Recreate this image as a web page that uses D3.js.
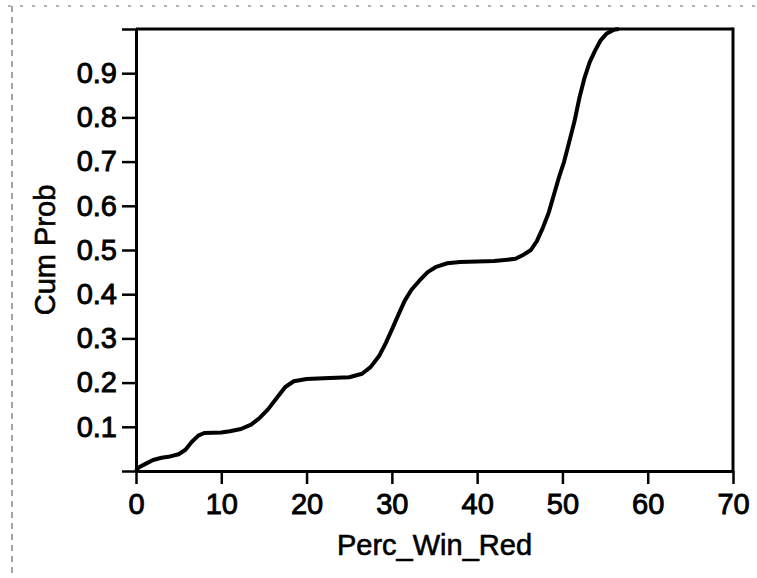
<!DOCTYPE html>
<html>
<head>
<meta charset="utf-8">
<script src="https://cdn.jsdelivr.net/npm/d3@7"></script>
<style>
  body { margin: 0; background: #fff; }
  svg { display: block; }
  .axis text { font-family: "Liberation Sans", Arial, sans-serif; font-size: 29px; fill: #000; stroke: #000; stroke-width: 0.9px; }
  .axis path, .axis line { stroke: #000; }
  .ttl { font-family: "Liberation Sans", Arial, sans-serif; font-size: 29px; fill: #000; stroke: #000; stroke-width: 0.6px; }
</style>
</head>
<body>
<div class="svgtarget"></div>
<script>
// chart data
var xTicks = [0, 10, 20, 30, 40, 50, 60, 70];
var yTicks = [0, 0.1, 0.2, 0.3, 0.4, 0.5, 0.6, 0.7, 0.8, 0.9, 1.0];
var yTickLabels = ["", "0.1", "0.2", "0.3", "0.4", "0.5", "0.6", "0.7", "0.8", "0.9", ""];
var xTitle = "Perc_Win_Red";
var yTitle = "Cum Prob";

var percWinRed = [0, 0.3, 1, 2, 3, 4, 5, 5.8, 6.5, 7.3, 8, 10, 11, 12.3, 13.5, 14.5, 15.5, 16.5, 17.5, 18.5,
                  20, 22, 25, 26.5, 27.5, 28.5, 29.3, 30, 30.8, 31.5, 32.3, 33.2, 34.2, 35.2, 36.5, 38,
                  42, 44.5, 45.5, 46.3, 47, 47.7, 48.4, 49, 49.6, 50.2, 50.8, 51.4, 52, 52.6, 53.2, 53.8,
                  54.5, 55.2, 56, 56.6];
var cumProb = [0, 0.008, 0.015, 0.025, 0.03, 0.033, 0.038, 0.048, 0.065, 0.08, 0.086, 0.087, 0.09, 0.095, 0.105, 0.12, 0.14, 0.165, 0.19, 0.203,
               0.208, 0.21, 0.212, 0.22, 0.235, 0.26, 0.29, 0.32, 0.355, 0.385, 0.41, 0.43, 0.45, 0.462, 0.47, 0.473,
               0.475, 0.48, 0.49, 0.5, 0.52, 0.55, 0.585, 0.625, 0.665, 0.70, 0.745, 0.79, 0.845, 0.89, 0.925, 0.95,
               0.975, 0.99, 0.998, 1.0];

var W = 757, H = 578;
var margin = {top: 29, right: 24, bottom: 107, left: 136};

var svg = d3.select(".svgtarget").append("svg")
    .attr("width", W)
    .attr("height", H);

// faint scan border
svg.append("line").attr("x1", 8).attr("y1", 6).attr("x2", W).attr("y2", 6)
    .attr("stroke", "#666").attr("stroke-width", 1.2).attr("stroke-dasharray", "3,9");
svg.append("line").attr("x1", 12).attr("y1", 6).attr("x2", 12).attr("y2", H)
    .attr("stroke", "#666").attr("stroke-width", 1.2).attr("stroke-dasharray", "6,5");

var x = d3.scaleLinear().domain([0, 70]).range([margin.left, W - margin.right]);
var y = d3.scaleLinear().domain([0, 1]).range([H - margin.bottom, margin.top]);

// frame top and right
svg.append("line").attr("x1", x(0)).attr("x2", x(70)).attr("y1", y(1)).attr("y2", y(1))
    .attr("stroke", "#000").attr("stroke-width", 3);
svg.append("line").attr("x1", x(70)).attr("x2", x(70)).attr("y1", y(1) - 1.5).attr("y2", y(0))
    .attr("stroke", "#000").attr("stroke-width", 3);

var xAxis = svg.append("g").attr("class", "axis")
    .attr("transform", "translate(0," + y(0) + ")")
    .call(d3.axisBottom(x).tickValues(xTicks).tickSize(13).tickPadding(9).tickSizeOuter(0));

var yAxis = svg.append("g").attr("class", "axis")
    .attr("transform", "translate(" + x(0) + ",0)")
    .call(d3.axisLeft(y).tickValues(yTicks).tickSize(14).tickPadding(5).tickSizeOuter(0)
        .tickFormat(function(d, i) { return yTickLabels[i]; }));

svg.selectAll(".axis path").attr("stroke-width", 3);
svg.selectAll(".axis line").attr("stroke-width", 2.5);

var line = d3.line()
    .x(function(d, i) { return x(percWinRed[i]); })
    .y(function(d) { return y(d); });

svg.append("path")
    .datum(cumProb)
    .attr("fill", "none")
    .attr("stroke", "#000")
    .attr("stroke-width", 4)
    .attr("stroke-linejoin", "round")
    .attr("d", line);

svg.append("text").attr("class", "ttl")
    .attr("x", (x(0) + x(70)) / 2)
    .attr("y", 555)
    .attr("text-anchor", "middle")
    .text(xTitle);

svg.append("text").attr("class", "ttl")
    .attr("transform", "translate(55," + (y(0) + y(1)) / 2 + ") rotate(-90)")
    .attr("text-anchor", "middle")
    .text(yTitle);
</script>
</body>
</html>
